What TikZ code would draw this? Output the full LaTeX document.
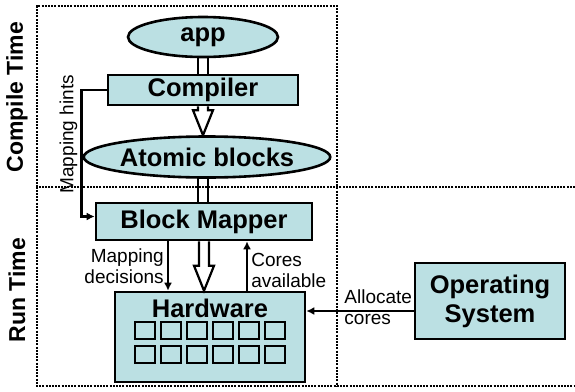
\documentclass[tikz,border=0pt]{standalone}
\usepackage{fontspec}
\setmainfont{Liberation Sans}
\usepackage{tikz}
\usetikzlibrary{shapes.geometric, arrows.meta, positioning, calc}

\definecolor{boxfill}{RGB}{187,224,227}

\tikzset{
  stage/.style={draw, line width=2.6pt, fill=boxfill, inner sep=0pt, font=\fontsize{25.5}{29}\selectfont\bfseries},
  stagebox/.style={stage, rectangle},
  stageoval/.style={stage, ellipse},
  core/.style={draw, line width=2pt, fill=boxfill, minimum width=20pt, minimum height=17pt, inner sep=0pt},
  conn/.style={line width=2.6pt, -{Latex[length=8pt, width=8pt]}},
  frame/.style={line width=2.4pt, dash pattern=on 2pt off 1.2pt},
  note/.style={font=\fontsize{19}{21}\selectfont, inner sep=3pt},
  phase/.style={rotate=90, font=\fontsize{23}{26}\selectfont\bfseries}
}

% wide hollow arrow between two stacked nodes
\newcommand{\hollowarrow}[2]{%
  \draw[line width=2.2pt, fill=white] let \p1=(#1.south), \p2=(#2.north) in
    (\x1-5pt,\y1) -- (\x1-5pt,\y2+25pt) -- (\x1-10pt,\y2+25pt) -- (\x1,\y2)
    -- (\x1+10pt,\y2+25pt) -- (\x1+5pt,\y2+25pt) -- (\x1+5pt,\y1);}

\begin{document}
\begin{tikzpicture}[x=1pt, y=-1pt]
\useasboundingbox (0,0) rectangle (575,391);

% phases
\draw[frame] (37,187) -- (37,6) -- (337,6) -- (337,386);
\draw[frame] (575,187) -- (37,187) -- (37,386) -- (575,386);
\node[phase] (ctime) at (17,97) {Compile Time};
\node[phase] (rtime) at (17,290) {Run Time};

% double lines behind boxes
\draw[line width=2.2pt] (198,50) -- (198,80) (208,50) -- (208,80);
\draw[line width=2.2pt] (198,170) -- (198,210) (208,170) -- (208,210);

\node[stageoval, minimum width=150pt, minimum height=40pt] (app) at (203,37) {app};
\node[stagebox, minimum width=190pt, minimum height=30pt] (compiler) at (203,90) {Compiler};
\node[stageoval, minimum width=222pt, minimum height=41pt] (atomic) at (207,157) {Atomic blocks};
\node[stagebox, minimum width=216pt, minimum height=37pt] (mapper) at (204,221.5) {Block Mapper};
\node[stagebox, minimum width=190pt, minimum height=90pt] (hardware) at (210,337) {};
\node[font=\fontsize{25.5}{29}\selectfont\bfseries] (hwtext) at (210,308) {Hardware};
\node[stagebox, minimum width=150pt, minimum height=76pt, align=center] (os) at (490,301) {Operating\\System};

\foreach \i in {0,...,5}
  \foreach \j in {0,1}
    \node[core] (core\i\j) at (145+26*\i, 330+24.5*\j) {};

\hollowarrow{compiler}{atomic}
\hollowarrow{mapper}{hardware}

% connectors
\draw[conn] (compiler.west) -| ([xshift=-13pt, yshift=5pt]mapper.west)
  node[note, pos=0.675, rotate=90, anchor=south] {Mapping hints}
  -- ([yshift=5pt]mapper.west);
\draw[conn] ([xshift=-36pt]mapper.south) -- ([xshift=-36pt]mapper.south |- hardware.north)
  node[note, midway, left, align=right] {Mapping\\decisions};
\draw[conn] ([xshift=37pt]hardware.north) -- ([xshift=37pt]hardware.north |- mapper.south)
  node[note, pos=0.4, right, align=left] {Cores\\available};
\draw[conn] ([yshift=-10pt]os.west) -- ([yshift=-10pt]os.west -| hardware.east)
  node[note, pos=0.33, yshift=4pt, align=left] {Allocate\\cores};
\end{tikzpicture}
\end{document}
